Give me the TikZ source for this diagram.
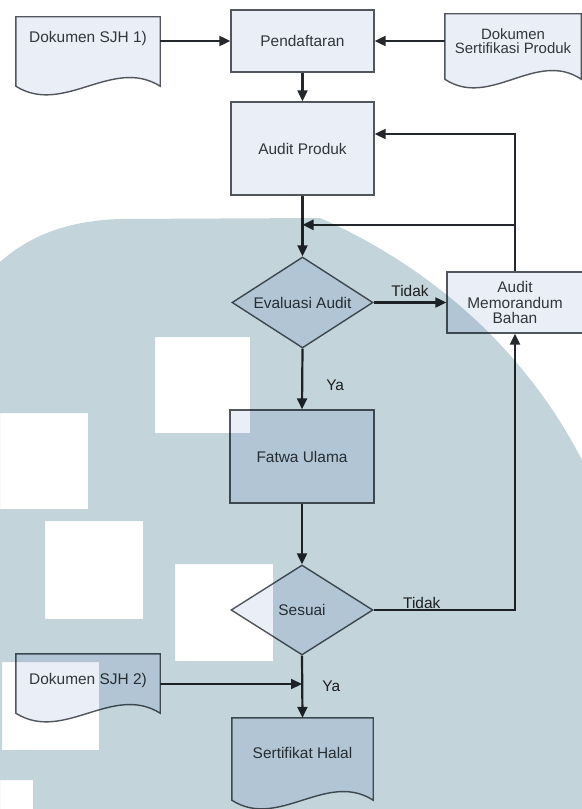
\documentclass[tikz,border=0pt]{standalone}
\usepackage{fontspec}
\setmainfont{Liberation Sans}
\usetikzlibrary{arrows.meta,calc,shapes.geometric}
\definecolor{boxfill}{RGB}{233,238,247}
\definecolor{boxline}{RGB}{80,86,92}
\definecolor{flowline}{RGB}{36,40,44}
\definecolor{txt}{RGB}{50,55,60}
\definecolor{umnbg}{RGB}{195,212,219}
\tikzset{
    every node/.style={font=\fontsize{15.5}{15.5}\selectfont, text=txt},
    proc/.style={rectangle, draw=boxline, fill=boxfill, line width=1.4bp, minimum width=143bp, minimum height=93bp, inner sep=0pt, align=center},
    decide/.style={diamond, draw=boxline, fill=boxfill, line width=1.4bp, minimum width=141bp, minimum height=91bp, inner sep=0pt, aspect=1.55},
    doctext/.style={rectangle, minimum width=144bp, inner sep=0pt, align=center},
    docfill/.style={draw=boxline, fill=boxfill, line width=1.4bp},
    flow/.style={draw=flowline, line width=2.2bp, -{Triangle[length=11bp,width=10bp]}},
    lbl/.style={inner sep=1bp, text=black!85}
}
% #1 node, #2 drop of the wavy base below the node
\newcommand{\docshape}[2]{%
    \path[docfill] (#1.north west) -- (#1.north east) -- ([yshift=-#2bp]#1.south east)
        .. controls ($([yshift=-#2bp]#1.south east)!0.33!([yshift=-#2bp]#1.south west)+(0,-30)$)
        and ($([yshift=-#2bp]#1.south east)!0.67!([yshift=-#2bp]#1.south west)+(0,30)$)
        .. ([yshift=-#2bp]#1.south west) -- cycle;}

\begin{document}
\begin{tikzpicture}[x=1bp,y=-1bp]
        \useasboundingbox (0,0) rectangle (582,809);
        \node[proc, minimum height=62bp] (pend) at (302.5,41) {Pendaftaran};
        \node[proc] (audit) at (302.5,148.5) {Audit Produk};
        \node[decide] (eval) at (302.5,302.5) {Evaluasi Audit};
        \node[proc, minimum width=136bp, minimum height=61bp] (amb) at (515,302.5) {Audit\\Memorandum\\Bahan};
        \node[proc, minimum width=144bp] (fatwa) at (302,456.5) {Fatwa Ulama};
        \node[decide, minimum width=142bp, minimum height=90bp] (sesuai) at (302,610) {Sesuai};

        \node[doctext, minimum height=48bp] (dokSJH1) at (88,41) {};
        \docshape{dokSJH1}{21}
        \node[doctext] at (88,39) {Dokumen SJH 1)};
        \node[doctext, minimum width=136bp, minimum height=54bp] (dokSert) at (513,41) {};
        \docshape{dokSert}{11}
        \node[doctext, font=\fontsize{15}{13.5}\selectfont] at (513,41) {Dokumen\\Sertifikasi Produk};
        \node[doctext, minimum height=60bp] (dokSJH2) at (88,684) {};
        \docshape{dokSJH2}{-1}
        \node[doctext] at (88,680) {Dokumen SJH 2)};
        \node[doctext, minimum width=141bp, minimum height=70bp] (sertHalal) at (302.5,753) {};
        \docshape{sertHalal}{12}
        \node[doctext] at (302.5,753) {Sertifikat Halal};

        \draw[flow] (dokSJH1.east) -- (pend.west);
        \draw[flow] (dokSert.west) -- (pend.east);
        \draw[flow] (pend.south) -- (audit.north);
        \draw[flow] (audit.south) -- (eval.north);
        \draw[flow] (amb.north) |- ([yshift=14.5bp]audit.east);
        \coordinate (back) at ($(amb.north)+(0,-46.5)$);
        \draw[flow] (back) -- (back -| audit.south);
        \draw[flow] (eval.east) -- node[lbl, midway, above=4bp] {Tidak} (amb.west);
        \draw[flow] (eval.south) -- node[lbl, pos=0.6, right=22bp] {Ya} (fatwa.north);
        \draw[flow] (fatwa.south) -- (sesuai.north);
        \draw[flow] (sesuai.east) -| node[lbl, pos=0.17, above=-1bp] {Tidak} (amb.south);
        \draw[flow] (sesuai.south) -- node[lbl, midway, right=18bp] {Ya} (sertHalal.north);
        \draw[flow] (dokSJH2.east) -- (dokSJH2.east -| sesuai.south);

        \begin{scope}[blend mode=multiply]
            \fill[umnbg, even odd rule] (0,262) .. controls (25,240) and (60,221) .. (120,219) -- (320,218)
                .. controls (420,262) and (520,340) .. (582,460) -- (582,809) -- (0,809) -- cycle
                (0,413) rectangle (88,509) (155,337) rectangle (250,433) (45,521) rectangle (143,619)
                (175,564) rectangle (273,661) (2,662) rectangle (99,750) (0,780) rectangle (33,809);
        \end{scope}
\end{tikzpicture}
\end{document}
